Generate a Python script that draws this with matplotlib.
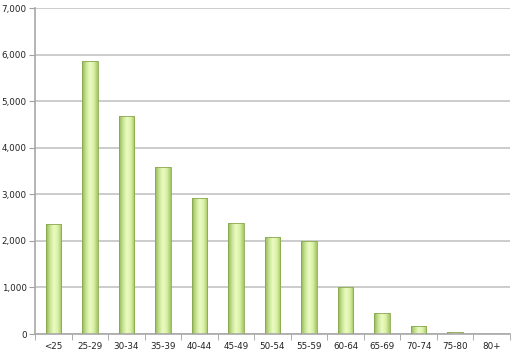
import numpy as np
import matplotlib
matplotlib.use('Agg')
from matplotlib import pyplot as plt
from matplotlib.colors import LinearSegmentedColormap
from matplotlib.ticker import FuncFormatter, MultipleLocator

# age groups and counts
groups = ['<25', '25-29', '30-34', '35-39', '40-44', '45-49', '50-54',
          '55-59', '60-64', '65-69', '70-74', '75-80', '80+']
counts = [2360, 5860, 4680, 3580, 2920, 2380, 2080, 1990, 1000, 450, 170, 40, 10]

fig = plt.figure(figsize=(5.23, 3.55), dpi=100)
ax = fig.add_axes([0.067, 0.059, 0.908, 0.918])

x = np.arange(len(groups))
bars = ax.bar(x, counts, width=0.42, color='none', edgecolor='#8aa852',
              linewidth=0.6, zorder=3)

# cylinder-like shading across each bar
cmap = LinearSegmentedColormap.from_list(
    'grn', ['#93b554', '#c8e494', '#edfcc4', '#d9f1a6', '#a3c562'])
grad = np.linspace(0, 1, 64).reshape(1, -1)
for b in bars:
    x0, y0 = b.get_x(), b.get_y()
    w, h = b.get_width(), b.get_height()
    im = ax.imshow(grad, cmap=cmap, aspect='auto', zorder=2,
                   extent=[x0, x0 + w, y0, y0 + h], interpolation='bicubic')
    im.set_clip_path(b)

ax.set_xlim(-0.5, len(groups) - 0.5)
ax.set_ylim(0, 7000)
ax.yaxis.set_major_locator(MultipleLocator(1000))
ax.yaxis.set_major_formatter(FuncFormatter(lambda v, p: f'{int(v):,}'))
ax.grid(axis='y', color='#c8c8c8', linewidth=1.3, zorder=0)

ax.set_xticks(x)
ax.set_xticklabels(groups)
ax.set_xticks(np.arange(-0.5, len(groups)), minor=True)
ax.tick_params(axis='x', which='major', length=0, pad=6)
ax.tick_params(axis='x', which='minor', length=4, color='#a0a0a0')
ax.tick_params(axis='y', length=4, color='#a0a0a0', pad=2)
ax.tick_params(labelsize=6.3, labelcolor='#222222')

for s in ['top', 'right']:
    ax.spines[s].set_visible(False)
for s in ['left', 'bottom']:
    ax.spines[s].set_color('#a8a8a8')
    ax.spines[s].set_linewidth(1.2)

plt.savefig('out.png', dpi=100)
